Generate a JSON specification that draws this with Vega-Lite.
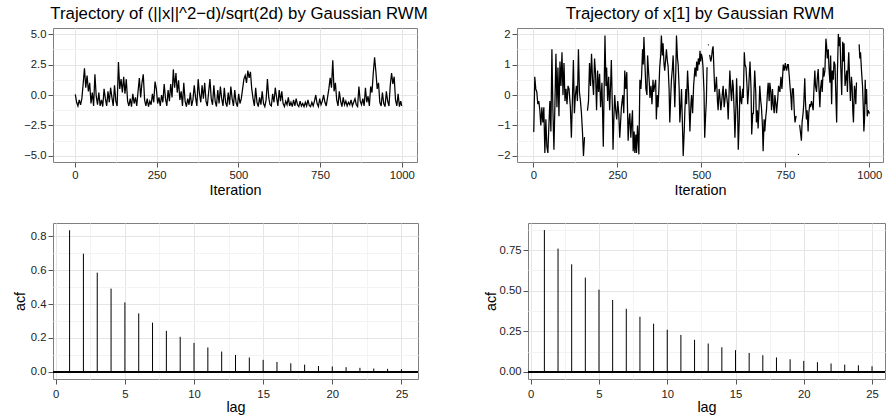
{
"$schema":"https://vega.github.io/schema/vega-lite/v6.json",
"padding":{"left":11,"top":5,"right":0,"bottom":0},
"background":"white",
"config":{
 "view":{"stroke":"#7f7f7f","strokeWidth":1},
 "font":"Liberation Sans",
 "axis":{"domain":false,"tickColor":"#555555","tickSize":5,"labelColor":"#222222","labelFontSize":11.3,"labelFont":"Liberation Sans","labelPadding":2,"titleFont":"Liberation Sans","titleFontSize":14.4,"titleFontWeight":"normal","titleColor":"#000000","labelFlush":false,"labelOverlap":false,"maxExtent":200},
 "title":{"font":"Liberation Sans","fontSize":16.8,"fontWeight":"normal","color":"#000000","frame":"group","anchor":"middle","baseline":"alphabetic","offset":5}
},
"datasets":{
"tl":[
{"i":1,"v":0.05},{"i":5,"v":-0.6},{"i":9,"v":-0.9},{"i":13,"v":-0.4},{"i":17,"v":-0.8},{"i":21,"v":-0.3},{"i":25,"v":0.9},{"i":29,"v":2.2},{"i":33,"v":0.6},{"i":37,"v":1.6},
{"i":41,"v":0.3},{"i":45,"v":1.0},{"i":49,"v":-0.7},{"i":53,"v":0.2},{"i":57,"v":-0.9},{"i":61,"v":1.7},{"i":65,"v":-0.1},{"i":69,"v":-0.8},{"i":73,"v":0.2},{"i":77,"v":-0.9},
{"i":81,"v":-0.4},{"i":85,"v":-0.95},{"i":89,"v":0.5},{"i":93,"v":-0.3},{"i":97,"v":-0.9},{"i":101,"v":0.3},{"i":105,"v":-0.6},{"i":109,"v":0.6},{"i":113,"v":-0.2},{"i":117,"v":-0.9},
{"i":121,"v":0.8},{"i":125,"v":-0.5},{"i":129,"v":-0.9},{"i":133,"v":2.7},{"i":137,"v":0.5},{"i":141,"v":1.3},{"i":145,"v":0.2},{"i":149,"v":1.5},{"i":153,"v":0.1},{"i":157,"v":1.3},
{"i":161,"v":-0.5},{"i":165,"v":-0.9},{"i":169,"v":-0.3},{"i":173,"v":-0.95},{"i":177,"v":0.1},{"i":181,"v":-0.7},{"i":185,"v":-0.2},{"i":189,"v":-0.9},{"i":193,"v":0.3},{"i":197,"v":1.4},
{"i":201,"v":-0.2},{"i":205,"v":1.0},{"i":209,"v":1.7},{"i":213,"v":-0.4},{"i":217,"v":-0.9},{"i":221,"v":-0.3},{"i":225,"v":-0.95},{"i":229,"v":-0.5},{"i":233,"v":-0.8},{"i":237,"v":0.1},
{"i":241,"v":-0.6},{"i":245,"v":1.1},{"i":249,"v":0.5},{"i":253,"v":-0.7},{"i":257,"v":-0.2},{"i":261,"v":-0.9},{"i":265,"v":0.0},{"i":269,"v":-0.6},{"i":273,"v":0.9},{"i":277,"v":-0.3},
{"i":281,"v":-0.9},{"i":285,"v":0.4},{"i":289,"v":-0.5},{"i":293,"v":0.9},{"i":297,"v":-0.2},{"i":301,"v":2.1},{"i":305,"v":0.6},{"i":309,"v":1.8},{"i":313,"v":0.2},{"i":317,"v":1.2},
{"i":321,"v":-0.4},{"i":325,"v":0.3},{"i":329,"v":-0.9},{"i":333,"v":1.0},{"i":337,"v":-0.5},{"i":341,"v":-0.95},{"i":345,"v":-0.3},{"i":349,"v":-0.8},{"i":353,"v":0.2},{"i":357,"v":-0.9},
{"i":361,"v":-0.4},{"i":365,"v":0.8},{"i":369,"v":-0.2},{"i":373,"v":-0.9},{"i":377,"v":1.3},{"i":381,"v":0.1},{"i":385,"v":-0.6},{"i":389,"v":0.8},{"i":393,"v":-0.3},{"i":397,"v":1.0},
{"i":401,"v":-0.5},{"i":405,"v":-0.9},{"i":409,"v":0.2},{"i":413,"v":1.3},{"i":417,"v":-0.3},{"i":421,"v":-0.8},{"i":425,"v":0.8},{"i":429,"v":-0.5},{"i":433,"v":-0.95},{"i":437,"v":0.4},
{"i":441,"v":-0.7},{"i":445,"v":0.7},{"i":449,"v":-0.3},{"i":453,"v":-0.9},{"i":457,"v":0.6},{"i":461,"v":-0.6},{"i":465,"v":-0.95},{"i":469,"v":0.2},{"i":473,"v":-0.8},{"i":477,"v":0.7},
{"i":481,"v":-0.3},{"i":485,"v":-0.9},{"i":489,"v":0.4},{"i":493,"v":-0.6},{"i":497,"v":-0.95},{"i":501,"v":0.1},{"i":505,"v":-0.7},{"i":509,"v":-0.3},{"i":513,"v":0.5},{"i":517,"v":1.3},
{"i":521,"v":1.6},{"i":525,"v":1.0},{"i":529,"v":2.0},{"i":533,"v":1.4},{"i":537,"v":1.9},{"i":541,"v":0.5},{"i":545,"v":-0.3},{"i":549,"v":-0.9},{"i":553,"v":0.6},{"i":557,"v":-0.6},
{"i":561,"v":-0.95},{"i":565,"v":-0.2},{"i":569,"v":-0.8},{"i":573,"v":0.3},{"i":577,"v":-0.7},{"i":581,"v":-0.95},{"i":585,"v":-0.4},{"i":589,"v":1.3},{"i":593,"v":-0.2},{"i":597,"v":-0.8},
{"i":601,"v":-0.9},{"i":605,"v":0.1},{"i":609,"v":-0.6},{"i":613,"v":0.6},{"i":617,"v":-0.2},{"i":621,"v":-0.9},{"i":625,"v":0.4},{"i":629,"v":-0.5},{"i":633,"v":0.3},{"i":637,"v":-0.7},
{"i":641,"v":-0.95},{"i":645,"v":-0.5},{"i":649,"v":-0.8},{"i":653,"v":-0.2},{"i":657,"v":-0.9},{"i":661,"v":-0.6},{"i":665,"v":-0.95},{"i":669,"v":-0.4},{"i":673,"v":-0.9},{"i":677,"v":-0.3},
{"i":681,"v":-0.8},{"i":685,"v":-0.95},{"i":689,"v":-0.5},{"i":693,"v":-0.9},{"i":697,"v":-0.7},{"i":701,"v":-0.95},{"i":705,"v":-0.6},{"i":709,"v":-0.9},{"i":713,"v":-0.4},{"i":717,"v":-0.85},
{"i":721,"v":-0.95},{"i":725,"v":-0.6},{"i":729,"v":-0.9},{"i":733,"v":-0.5},{"i":737,"v":0.0},{"i":741,"v":-0.7},{"i":745,"v":-0.95},{"i":749,"v":-0.3},{"i":753,"v":-0.8},{"i":757,"v":-0.5},
{"i":761,"v":0.0},{"i":765,"v":-0.6},{"i":769,"v":-0.9},{"i":773,"v":-0.2},{"i":777,"v":0.5},{"i":781,"v":1.4},{"i":785,"v":0.6},{"i":789,"v":2.85},{"i":793,"v":0.3},{"i":797,"v":1.0},
{"i":801,"v":-0.4},{"i":805,"v":-0.9},{"i":809,"v":0.3},{"i":813,"v":-0.5},{"i":817,"v":-0.95},{"i":821,"v":-0.2},{"i":825,"v":-0.8},{"i":829,"v":-0.5},{"i":833,"v":-0.9},{"i":837,"v":-0.6},
{"i":841,"v":-0.8},{"i":845,"v":-0.4},{"i":849,"v":-0.9},{"i":853,"v":-0.6},{"i":857,"v":-0.3},{"i":861,"v":-0.8},{"i":865,"v":-0.95},{"i":869,"v":0.7},{"i":873,"v":-0.5},{"i":877,"v":-0.8},
{"i":881,"v":-0.3},{"i":885,"v":-0.9},{"i":889,"v":0.6},{"i":893,"v":-0.6},{"i":897,"v":-0.1},{"i":901,"v":-0.9},{"i":905,"v":0.7},{"i":909,"v":0.2},{"i":913,"v":1.8},{"i":917,"v":3.1},
{"i":921,"v":1.9},{"i":925,"v":0.5},{"i":929,"v":1.0},{"i":933,"v":-0.6},{"i":937,"v":-0.9},{"i":941,"v":0.2},{"i":945,"v":-0.7},{"i":949,"v":-0.95},{"i":953,"v":0.3},{"i":957,"v":-0.5},
{"i":961,"v":-0.9},{"i":965,"v":0.8},{"i":969,"v":1.8},{"i":973,"v":0.9},{"i":977,"v":1.5},{"i":981,"v":-0.4},{"i":985,"v":-0.9},{"i":989,"v":0.1},{"i":993,"v":-0.95},{"i":997,"v":-0.5},
{"i":1000,"v":-0.9}
],
"tr":[
{"i":1,"v":-1.2},{"i":4,"v":0.6},{"i":7,"v":0.2},{"i":10,"v":0.1},{"i":13,"v":-0.3},{"i":16,"v":-0.2},{"i":19,"v":-0.5},{"i":22,"v":-1.0},{"i":25,"v":-0.4},{"i":28,"v":-0.9},
{"i":31,"v":-0.4},{"i":34,"v":-1.9},{"i":37,"v":-0.8},{"i":40,"v":-1.7},{"i":43,"v":-1.9},{"i":46,"v":-1.0},{"i":49,"v":-0.2},{"i":52,"v":-1.2},{"i":55,"v":1.5},{"i":58,"v":-0.5},
{"i":61,"v":-1.8},{"i":64,"v":-0.3},{"i":67,"v":1.35},{"i":70,"v":-0.4},{"i":73,"v":0.9},{"i":76,"v":-0.7},{"i":79,"v":1.1},{"i":82,"v":0.3},{"i":85,"v":1.4},{"i":88,"v":0.0},
{"i":91,"v":1.05},{"i":94,"v":-0.2},{"i":97,"v":0.2},{"i":100,"v":-0.3},{"i":103,"v":0.3},{"i":106,"v":0.2},{"i":110,"v":-0.4},{"i":113,"v":-1.4},{"i":116,"v":-0.2},{"i":119,"v":1.15},
{"i":122,"v":-0.6},{"i":125,"v":0.0},{"i":128,"v":0.3},{"i":131,"v":-0.2},{"i":134,"v":1.5},{"i":137,"v":0.1},{"i":140,"v":-0.2},{"i":143,"v":-0.6},{"i":146,"v":-1.2},{"i":149,"v":-2.0},
{"i":152,"v":-1.4},{"i":155,"v":null},{"i":158,"v":null},{"i":161,"v":-0.5},{"i":164,"v":-0.2},{"i":167,"v":1.05},{"i":170,"v":0.3},{"i":173,"v":1.35},{"i":176,"v":0.5},{"i":179,"v":0.0},
{"i":182,"v":1.2},{"i":185,"v":0.7},{"i":188,"v":-0.5},{"i":191,"v":0.8},{"i":194,"v":0.1},{"i":197,"v":0.7},{"i":200,"v":-0.4},{"i":204,"v":0.4},{"i":208,"v":-1.7},{"i":213,"v":1.95},
{"i":216,"v":0.3},{"i":218,"v":0.9},{"i":221,"v":-0.2},{"i":224,"v":0.6},{"i":227,"v":-0.5},{"i":230,"v":0.4},{"i":232,"v":1.15},{"i":235,"v":-0.4},{"i":237,"v":-1.8},{"i":240,"v":-0.6},
{"i":242,"v":0.0},{"i":245,"v":-0.5},{"i":248,"v":-0.8},{"i":251,"v":-0.2},{"i":254,"v":-0.6},{"i":257,"v":-1.4},{"i":260,"v":-0.8},{"i":262,"v":-0.4},{"i":266,"v":0.0},{"i":269,"v":-0.6},
{"i":272,"v":0.8},{"i":275,"v":0.2},{"i":278,"v":0.75},{"i":282,"v":-1.5},{"i":285,"v":-0.8},{"i":287,"v":-0.6},{"i":290,"v":-1.4},{"i":292,"v":-1.0},{"i":295,"v":-0.5},{"i":297,"v":-1.85},
{"i":300,"v":-1.2},{"i":302,"v":-1.9},{"i":305,"v":-1.3},{"i":307,"v":-1.9},{"i":310,"v":-1.0},{"i":312,"v":-1.5},{"i":314,"v":-1.95},{"i":317,"v":0.5},{"i":320,"v":0.2},{"i":322,"v":0.6},
{"i":325,"v":1.5},{"i":327,"v":1.0},{"i":329,"v":1.9},{"i":332,"v":1.0},{"i":335,"v":0.2},{"i":338,"v":0.0},{"i":340,"v":1.3},{"i":342,"v":0.9},{"i":345,"v":0.4},{"i":347,"v":-0.1},
{"i":350,"v":0.3},{"i":353,"v":-0.3},{"i":356,"v":0.5},{"i":358,"v":0.1},{"i":361,"v":0.3},{"i":364,"v":0.5},{"i":366,"v":-0.8},{"i":369,"v":0.0},{"i":371,"v":-0.4},{"i":374,"v":0.3},
{"i":376,"v":0.9},{"i":379,"v":1.3},{"i":381,"v":1.95},{"i":384,"v":1.3},{"i":386,"v":1.7},{"i":389,"v":1.0},{"i":391,"v":0.8},{"i":394,"v":1.2},{"i":396,"v":1.5},{"i":399,"v":1.1},
{"i":401,"v":0.95},{"i":404,"v":0.2},{"i":406,"v":-0.9},{"i":409,"v":0.0},{"i":411,"v":0.5},{"i":414,"v":0.9},{"i":416,"v":1.3},{"i":419,"v":0.3},{"i":421,"v":-0.4},{"i":424,"v":0.8},
{"i":426,"v":1.95},{"i":429,"v":1.2},{"i":431,"v":1.0},{"i":434,"v":0.2},{"i":436,"v":-0.9},{"i":439,"v":-0.3},{"i":441,"v":0.2},{"i":444,"v":-1.1},{"i":446,"v":-2.0},{"i":449,"v":-1.2},
{"i":451,"v":-0.5},{"i":454,"v":0.2},{"i":456,"v":-0.3},{"i":459,"v":0.8},{"i":462,"v":0.1},{"i":466,"v":-1.2},{"i":469,"v":-0.3},{"i":471,"v":0.0},{"i":474,"v":-0.6},{"i":477,"v":0.3},
{"i":481,"v":0.9},{"i":484,"v":0.6},{"i":486,"v":1.1},{"i":489,"v":0.8},{"i":491,"v":1.2},{"i":494,"v":1.0},{"i":496,"v":1.45},{"i":498,"v":1.1},{"i":500,"v":1.35},{"i":503,"v":1.2},
{"i":505,"v":0.9},{"i":508,"v":0.1},{"i":510,"v":-1.4},{"i":513,"v":-0.6},{"i":515,"v":-0.2},{"i":517,"v":0.9},{"i":519,"v":null},{"i":521,"v":1.65},{"i":523,"v":null},{"i":525,"v":1.3},
{"i":528,"v":1.1},{"i":530,"v":1.2},{"i":533,"v":1.5},{"i":535,"v":1.6},{"i":538,"v":0.7},{"i":540,"v":0.1},{"i":543,"v":0.3},{"i":545,"v":0.6},{"i":548,"v":-0.2},{"i":550,"v":-0.5},
{"i":553,"v":0.2},{"i":555,"v":0.0},{"i":558,"v":-0.5},{"i":560,"v":-0.3},{"i":563,"v":0.1},{"i":565,"v":0.3},{"i":568,"v":-0.4},{"i":570,"v":-0.2},{"i":573,"v":0.2},{"i":575,"v":0.0},
{"i":578,"v":-0.3},{"i":580,"v":-0.8},{"i":583,"v":0.2},{"i":585,"v":0.8},{"i":588,"v":0.1},{"i":590,"v":-0.2},{"i":593,"v":0.5},{"i":595,"v":0.3},{"i":598,"v":-0.6},{"i":600,"v":-1.4},
{"i":603,"v":-0.4},{"i":605,"v":0.55},{"i":608,"v":-0.5},{"i":610,"v":-1.8},{"i":613,"v":-0.8},{"i":615,"v":0.3},{"i":618,"v":-0.2},{"i":620,"v":-0.3},{"i":623,"v":0.2},{"i":625,"v":-0.1},
{"i":628,"v":1.4},{"i":630,"v":1.0},{"i":633,"v":0.9},{"i":636,"v":0.3},{"i":638,"v":-0.3},{"i":641,"v":0.2},{"i":643,"v":0.7},{"i":645,"v":1.1},{"i":648,"v":0.2},{"i":650,"v":-1.3},
{"i":653,"v":-0.6},{"i":655,"v":-0.6},{"i":657,"v":0.2},{"i":659,"v":0.8},{"i":662,"v":0.1},{"i":664,"v":-0.9},{"i":667,"v":-0.5},{"i":669,"v":-1.1},{"i":672,"v":-0.4},{"i":674,"v":0.3},
{"i":677,"v":-0.2},{"i":679,"v":-0.4},{"i":682,"v":-1.0},{"i":684,"v":-1.85},{"i":687,"v":-0.8},{"i":689,"v":-1.2},{"i":692,"v":-0.7},{"i":694,"v":-0.5},{"i":697,"v":0.1},{"i":699,"v":0.4},
{"i":702,"v":-0.2},{"i":704,"v":0.4},{"i":707,"v":0.1},{"i":709,"v":-0.5},{"i":712,"v":0.2},{"i":714,"v":-0.3},{"i":717,"v":-0.6},{"i":719,"v":0.0},{"i":722,"v":-0.3},{"i":724,"v":-0.6},
{"i":727,"v":-0.2},{"i":730,"v":0.3},{"i":734,"v":0.1},{"i":737,"v":0.6},{"i":740,"v":0.2},{"i":744,"v":1.0},{"i":747,"v":0.8},{"i":750,"v":1.05},{"i":752,"v":0.9},{"i":754,"v":0.8},
{"i":757,"v":1.0},{"i":759,"v":1.0},{"i":762,"v":0.6},{"i":764,"v":0.3},{"i":767,"v":-0.1},{"i":769,"v":-0.5},{"i":771,"v":0.2},{"i":774,"v":0.2},{"i":777,"v":-0.6},{"i":779,"v":-0.9},
{"i":782,"v":-0.7},{"i":785,"v":null},{"i":789,"v":-1.95},{"i":791,"v":null},{"i":793,"v":-1.0},{"i":795,"v":-1.2},{"i":798,"v":-1.5},{"i":800,"v":-0.9},{"i":803,"v":-0.6},{"i":805,"v":-0.3},
{"i":808,"v":0.55},{"i":810,"v":-0.2},{"i":813,"v":-0.8},{"i":815,"v":-0.5},{"i":818,"v":-1.2},{"i":820,"v":-0.6},{"i":823,"v":-0.3},{"i":825,"v":-0.4},{"i":828,"v":-0.2},{"i":830,"v":-0.3},
{"i":833,"v":-0.5},{"i":835,"v":0.1},{"i":838,"v":0.8},{"i":840,"v":0.3},{"i":843,"v":0.1},{"i":845,"v":0.5},{"i":848,"v":0.85},{"i":850,"v":0.3},{"i":853,"v":-0.4},{"i":855,"v":0.2},
{"i":858,"v":0.5},{"i":860,"v":0.1},{"i":863,"v":0.9},{"i":865,"v":0.6},{"i":868,"v":0.8},{"i":871,"v":1.85},{"i":873,"v":1.6},{"i":875,"v":1.2},{"i":878,"v":1.5},{"i":880,"v":0.9},
{"i":883,"v":0.4},{"i":885,"v":1.3},{"i":888,"v":-0.3},{"i":890,"v":0.8},{"i":893,"v":0.5},{"i":895,"v":1.1},{"i":898,"v":1.0},{"i":900,"v":0.2},{"i":903,"v":-0.9},{"i":905,"v":0.6},
{"i":908,"v":2.0},{"i":910,"v":1.6},{"i":913,"v":1.9},{"i":915,"v":1.0},{"i":918,"v":0.0},{"i":920,"v":1.2},{"i":921,"v":1.75},{"i":923,"v":1.1},{"i":925,"v":1.7},{"i":928,"v":0.3},
{"i":930,"v":0.5},{"i":933,"v":0.8},{"i":935,"v":0.1},{"i":937,"v":0.9},{"i":939,"v":1.4},{"i":942,"v":0.4},{"i":944,"v":-0.2},{"i":947,"v":0.6},{"i":949,"v":0.3},{"i":951,"v":-0.5},
{"i":953,"v":-0.9},{"i":956,"v":0.3},{"i":958,"v":0.1},{"i":960,"v":-0.3},{"i":962,"v":0.4},{"i":964,"v":null},{"i":968,"v":null},{"i":970,"v":1.65},{"i":972,"v":1.2},{"i":974,"v":1.4},
{"i":977,"v":0.8},{"i":980,"v":0.3},{"i":982,"v":-0.3},{"i":984,"v":-1.2},{"i":986,"v":-0.8},{"i":988,"v":0.5},{"i":990,"v":-0.3},{"i":992,"v":0.2},{"i":994,"v":-0.7},{"i":997,"v":-0.5},
{"i":1000,"v":-0.6}
],
"acf":[
{"lag":1,"a1":0.835,"a2":0.874},{"lag":2,"a1":0.697,"a2":0.760},{"lag":3,"a1":0.585,"a2":0.663},{"lag":4,"a1":0.491,"a2":0.581},{"lag":5,"a1":0.410,"a2":0.507},
{"lag":6,"a1":0.345,"a2":0.443},{"lag":7,"a1":0.290,"a2":0.389},{"lag":8,"a1":0.242,"a2":0.340},{"lag":9,"a1":0.207,"a2":0.297},{"lag":10,"a1":0.171,"a2":0.260},
{"lag":11,"a1":0.144,"a2":0.228},{"lag":12,"a1":0.120,"a2":0.198},{"lag":13,"a1":0.100,"a2":0.175},{"lag":14,"a1":0.085,"a2":0.152},{"lag":15,"a1":0.071,"a2":0.134},
{"lag":16,"a1":0.059,"a2":0.117},{"lag":17,"a1":0.051,"a2":0.103},{"lag":18,"a1":0.043,"a2":0.089},{"lag":19,"a1":0.035,"a2":0.078},{"lag":20,"a1":0.032,"a2":0.068},
{"lag":21,"a1":0.028,"a2":0.060},{"lag":22,"a1":0.024,"a2":0.052},{"lag":23,"a1":0.020,"a2":0.045},{"lag":24,"a1":0.018,"a2":0.041},{"lag":25,"a1":0.016,"a2":0.035}
]
},
"spacing":24,
"columns":1,
"align":"none",
"concat":[
 {"spacing":57,"hconcat":[
  {"data":{"name":"tl"},"width":364,"height":134,
   "title":{"text":"Trajectory of (||x||^2−d)/sqrt(2d) by Gaussian RWM","dx":4},
   "mark":{"type":"line","color":"#000000","strokeWidth":1.25},
   "encoding":{
    "x":{"field":"i","type":"quantitative","scale":{"domain":[-67.3,1046.8],"nice":false,"zero":false},
     "axis":{"title":"Iteration","titlePadding":3,"format":"d","labelOverlap":false,"values":[0,125,250,375,500,625,750,875,1000],
      "labelExpr":"round(datum.value/125)%2==1 ? '' : datum.label",
      "gridColor":{"condition":{"test":"round(datum.value/125)%2==1","value":"#f3f3f3"},"value":"#e5e5e5"},
      "tickOpacity":{"condition":{"test":"round(datum.value/125)%2==1","value":0},"value":1}}},
    "y":{"field":"v","type":"quantitative","scale":{"domain":[-5.5,5.5],"nice":false,"zero":false},
     "axis":{"title":null,"format":".1f","labelOverlap":false,"minExtent":30,"values":[-5,-3.75,-2.5,-1.25,0,1.25,2.5,3.75,5],
      "labelExpr":"abs(round(datum.value*0.8))%2==1 ? '' : datum.label",
      "gridColor":{"condition":{"test":"abs(round(datum.value*0.8))%2==1","value":"#f3f3f3"},"value":"#e5e5e5"},
      "tickOpacity":{"condition":{"test":"abs(round(datum.value*0.8))%2==1","value":0},"value":1}}}
   }},
  {"data":{"name":"tr"},"width":366,"height":134,
   "title":{"text":"Trajectory of x[1] by Gaussian RWM"},
   "mark":{"type":"line","color":"#000000","strokeWidth":1.25,"invalid":"break-paths-filter-domains","strokeCap":"round"},
   "encoding":{
    "x":{"field":"i","type":"quantitative","scale":{"domain":[-48.95,1041],"nice":false,"zero":false},
     "axis":{"title":"Iteration","titlePadding":3,"format":"d","labelOverlap":false,"values":[0,125,250,375,500,625,750,875,1000],
      "labelExpr":"round(datum.value/125)%2==1 ? '' : datum.label",
      "gridColor":{"condition":{"test":"round(datum.value/125)%2==1","value":"#f3f3f3"},"value":"#e5e5e5"},
      "tickOpacity":{"condition":{"test":"round(datum.value/125)%2==1","value":0},"value":1}}},
    "y":{"field":"v","type":"quantitative","scale":{"domain":[-2.2,2.2],"nice":false,"zero":false},
     "axis":{"title":null,"format":".0f","labelOverlap":false,"minExtent":30,"values":[-2,-1.5,-1,-0.5,0,0.5,1,1.5,2],
      "labelExpr":"abs(round(datum.value*2))%2==1 ? '' : datum.label",
      "gridColor":{"condition":{"test":"abs(round(datum.value*2))%2==1","value":"#f3f3f3"},"value":"#e5e5e5"},
      "tickOpacity":{"condition":{"test":"abs(round(datum.value*2))%2==1","value":0},"value":1}}}
   }}
 ]},
 {"spacing":63,"hconcat":[
  {"data":{"name":"acf"},"width":365,"height":156,
   "resolve":{"axis":{"y":"independent"}},
   "layer":[
    {"mark":{"type":"rule","color":"#000000","strokeWidth":1},
     "encoding":{
      "x":{"field":"lag","type":"quantitative","scale":{"domain":[-0.2,26.2],"nice":false,"zero":false},
       "axis":{"title":"lag","titlePadding":1,"labelPadding":4,"format":"d","labelOverlap":false,"values":[0,2.5,5,7.5,10,12.5,15,17.5,20,22.5,25],
        "labelExpr":"round(datum.value/2.5)%2==1 ? '' : datum.label",
        "gridColor":{"condition":{"test":"round(datum.value/2.5)%2==1","value":"#f3f3f3"},"value":"#e5e5e5"},
        "tickOpacity":{"condition":{"test":"round(datum.value/2.5)%2==1","value":0},"value":1}}},
      "y":{"field":"a1","type":"quantitative","scale":{"domain":[-0.0418,0.8778],"nice":false,"zero":false},
       "axis":{"title":"acf","titlePadding":1,"minExtent":25,"format":".1f","labelOverlap":false,"values":[0,0.1,0.2,0.3,0.4,0.5,0.6,0.7,0.8],
        "labelExpr":"round(datum.value*10)%2==1 ? '' : datum.label",
        "gridColor":{"condition":{"test":"round(datum.value*10)%2==1","value":"#f3f3f3"},"value":"#e5e5e5"},
        "tickOpacity":{"condition":{"test":"round(datum.value*10)%2==1","value":0},"value":1}}},
      "y2":{"datum":0}}},
    {"mark":{"type":"rule","color":"#000000","strokeWidth":1},"encoding":{"y":{"datum":0,"type":"quantitative","axis":null}}}
   ]},
  {"data":{"name":"acf"},"width":357,"height":156,
   "resolve":{"axis":{"y":"independent"}},
   "layer":[
    {"mark":{"type":"rule","color":"#000000","strokeWidth":1},
     "encoding":{
      "x":{"field":"lag","type":"quantitative","scale":{"domain":[-0.2,25.95],"nice":false,"zero":false},
       "axis":{"title":"lag","titlePadding":1,"labelPadding":4,"format":"d","labelOverlap":false,"values":[0,2.5,5,7.5,10,12.5,15,17.5,20,22.5,25],
        "labelExpr":"round(datum.value/2.5)%2==1 ? '' : datum.label",
        "gridColor":{"condition":{"test":"round(datum.value/2.5)%2==1","value":"#f3f3f3"},"value":"#e5e5e5"},
        "tickOpacity":{"condition":{"test":"round(datum.value/2.5)%2==1","value":0},"value":1}}},
      "y":{"field":"a2","type":"quantitative","scale":{"domain":[-0.0437,0.9177],"nice":false,"zero":false},
       "axis":{"title":"acf","titlePadding":1,"minExtent":29,"format":".2f","labelOverlap":false,"values":[0,0.125,0.25,0.375,0.5,0.625,0.75,0.875],
        "labelExpr":"round(datum.value*8)%2==1 ? '' : datum.label",
        "gridColor":{"condition":{"test":"round(datum.value*8)%2==1","value":"#f3f3f3"},"value":"#e5e5e5"},
        "tickOpacity":{"condition":{"test":"round(datum.value*8)%2==1","value":0},"value":1}}},
      "y2":{"datum":0}}},
    {"mark":{"type":"rule","color":"#000000","strokeWidth":1},"encoding":{"y":{"datum":0,"type":"quantitative","axis":null}}}
   ]}
 ]}
]
}
